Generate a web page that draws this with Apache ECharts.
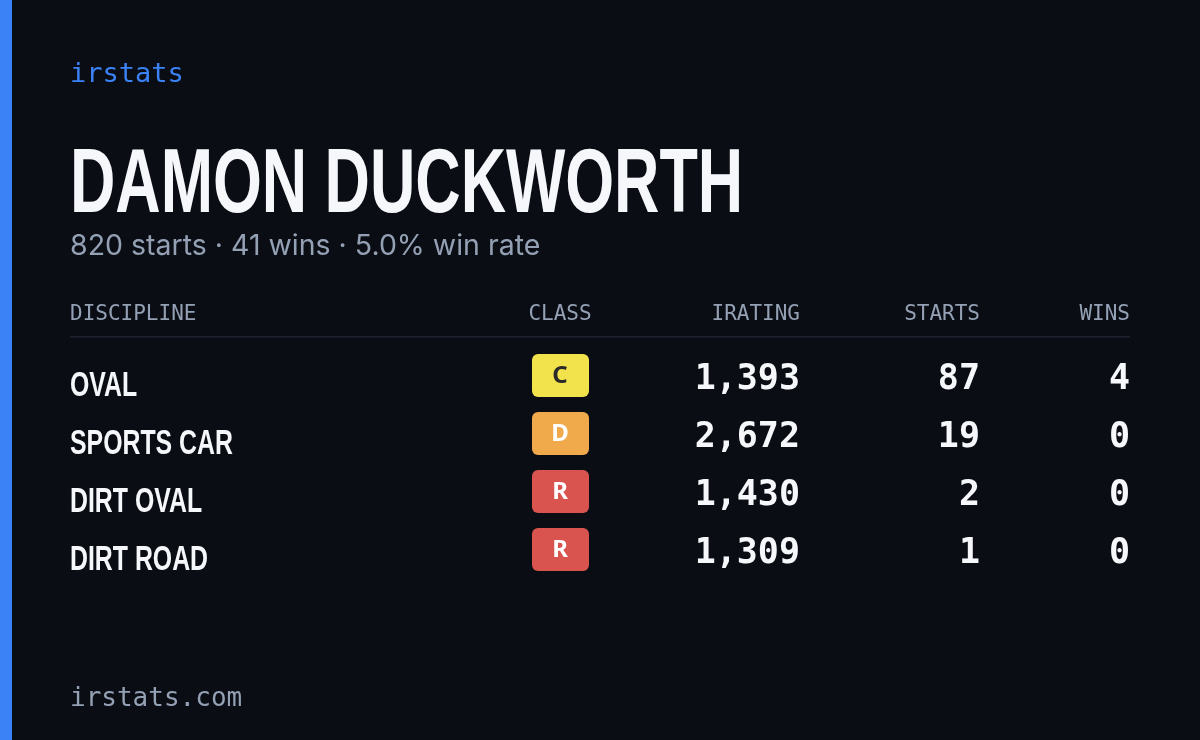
<!DOCTYPE html>
<html><head><meta charset="utf-8">
<script src="https://cdn.jsdelivr.net/npm/echarts@6/dist/echarts.min.js"></script>
<style>html,body{margin:0;background:#0a0d14}#c{width:1200px;height:740px}</style>
</head><body><div id="c"></div>
<script>
var brand = 'irstats';
var driver = 'DAMON DUCKWORTH';
var summary = '820 starts · 41 wins · 5.0% win rate';
var headers = ['DISCIPLINE', 'CLASS', 'IRATING', 'STARTS', 'WINS'];
var disciplines = ['OVAL', 'SPORTS CAR', 'DIRT OVAL', 'DIRT ROAD'];
var classes = ['C', 'D', 'R', 'R'];
var iratings = [1393, 2672, 1430, 1309];
var starts = [87, 19, 2, 1];
var wins = [4, 0, 0, 0];
var footer = 'irstats.com';

var classColor = { C: '#f2e24c', D: '#f0aa4c', R: '#d9534f' };
var classText = { C: '#2a2a2a', D: '#ffffff', R: '#ffffff' };
var mono = '"DejaVu Sans Mono", monospace';
var sans = '"Liberation Sans", sans-serif';
var fmt = function (v) { return v.toLocaleString('en-US'); };

var g = [
  { type: 'rect', shape: { x: 0, y: 0, width: 12, height: 740 }, style: { fill: '#3b82f6' } },
  { type: 'text', x: 70, y: 75, style: { text: brand, font: '500 27px ' + mono, fill: '#3b82f6', verticalAlign: 'middle' } },
  { type: 'text', x: 70, y: 187, scaleX: 0.69, style: { text: driver, font: 'bold 91px ' + sans, fill: '#f5f7fb', verticalAlign: 'middle' } },
  { type: 'text', x: 70, y: 246, style: { text: summary, font: '28.5px Inter, "Noto Sans", sans-serif', fill: '#94a0b4', verticalAlign: 'middle' } },
  { type: 'rect', shape: { x: 70, y: 336, width: 1060, height: 1.5 }, style: { fill: '#1f2430' } },
  { type: 'text', x: 70, y: 699, style: { text: footer, font: '500 26px ' + mono, fill: '#94a0b4', verticalAlign: 'middle' } }
];
var hx = [70, 560, 800, 980, 1130];
var ha = ['left', 'center', 'right', 'right', 'right'];
headers.forEach(function (h, i) {
  g.push({ type: 'text', x: hx[i], y: 315, style: { text: h, font: '500 21px ' + mono, fill: '#94a0b4', align: ha[i], verticalAlign: 'middle' } });
});
var rowY = [380, 438, 496, 554];
disciplines.forEach(function (d, i) {
  var y = rowY[i];
  g.push({ type: 'text', x: 70, y: y + 6, scaleX: 0.71, style: { text: d, font: 'bold 35px ' + sans, fill: '#f5f7fb', verticalAlign: 'middle' } });
  g.push({ type: 'rect', shape: { x: 532, y: y - 26, width: 57, height: 43, r: 6 }, style: { fill: classColor[classes[i]] } });
  g.push({ type: 'text', x: 560, y: y - 4, style: { text: classes[i], font: 'bold 24px "Noto Sans", sans-serif', fill: classText[classes[i]], align: 'center', verticalAlign: 'middle' } });
  [fmt(iratings[i]), String(starts[i]), String(wins[i])].forEach(function (t, j) {
    g.push({ type: 'text', x: hx[j + 2], y: y, style: { text: t, font: 'bold 35px ' + mono, fill: '#f5f7fb', align: 'right', verticalAlign: 'middle' } });
  });
});

var chart = echarts.init(document.getElementById('c'));
chart.setOption({ backgroundColor: '#0a0d14', graphic: g });
</script></body></html>
